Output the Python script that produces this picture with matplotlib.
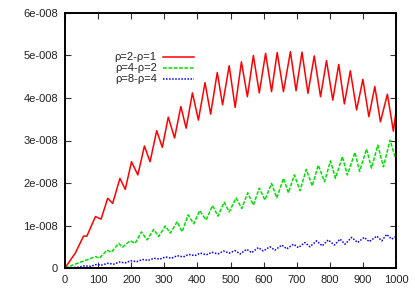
import matplotlib

matplotlib.use("Agg")
import matplotlib.pyplot as plt

plt.rcParams["font.family"] = ["Liberation Sans", "DejaVu Sans"]

# rho=2 - rho=1 (peaks and troughs, units of 1e-8)
red_x = [0, 31, 56, 66, 92, 109, 129, 144, 166, 182, 201, 220, 240, 257, 277, 294,
         312, 331, 350, 366, 385, 403, 423, 440, 460, 476, 496, 514, 533, 551, 569,
         587, 606, 624, 641, 660, 681, 698, 716, 734, 753, 772, 790, 809, 827, 844,
         862, 881, 900, 918, 936, 953, 974, 992, 1000]
red_y = [0, 0.35, 0.75, 0.75, 1.21, 1.15, 1.64, 1.52, 2.11, 1.85, 2.50, 2.19, 2.87,
         2.50, 3.23, 2.84, 3.55, 3.06, 3.80, 3.29, 4.12, 3.48, 4.36, 3.62, 4.60, 3.84,
         4.76, 3.78, 4.85, 4.03, 5.00, 4.12, 5.05, 4.15, 5.07, 4.15, 5.09, 4.17, 5.08,
         4.11, 4.99, 4.03, 4.88, 3.95, 4.79, 3.86, 4.64, 3.72, 4.44, 3.56, 4.27, 3.44,
         4.09, 3.22, 3.68]

# rho=4 - rho=2
green_x = [0, 51, 66, 92, 104, 127, 140, 162, 174, 197, 212, 231, 248, 268, 283, 303,
           318, 339, 354, 372, 389, 407, 426, 446, 462, 481, 496, 517, 534, 552, 569,
           587, 604, 624, 640, 660, 675, 693, 710, 729, 747, 765, 784, 802, 817, 838,
           853, 876, 890, 911, 926, 945, 962, 982, 1000]
green_y = [0, 0.15, 0.19, 0.27, 0.23, 0.42, 0.37, 0.58, 0.49, 0.64, 0.58, 0.85, 0.66,
           0.91, 0.74, 0.99, 0.82, 1.09, 0.85, 1.25, 1.04, 1.35, 1.13, 1.47, 1.22, 1.55,
           1.32, 1.65, 1.40, 1.77, 1.48, 1.88, 1.60, 1.99, 1.65, 2.11, 1.77, 2.19, 1.82,
           2.32, 1.93, 2.42, 2.03, 2.52, 2.11, 2.62, 2.19, 2.72, 2.27, 2.80, 2.35, 2.89,
           2.38, 3.01, 2.54]

# rho=8 - rho=4
blue_x = [0, 42, 59, 77, 94, 112, 129, 147, 164, 182, 199, 217, 234, 252, 269, 287,
          304, 322, 339, 357, 374, 392, 409, 427, 444, 462, 479, 496, 514, 529, 549,
          564, 584, 599, 619, 634, 655, 670, 690, 705, 725, 740, 760, 777, 795, 814,
          831, 846, 866, 884, 904, 919, 942, 957, 972, 987, 1000]
blue_y = [0, 0.02, 0.05, 0.04, 0.08, 0.07, 0.11, 0.09, 0.14, 0.12, 0.17, 0.15, 0.20,
          0.18, 0.23, 0.21, 0.26, 0.23, 0.29, 0.26, 0.32, 0.29, 0.35, 0.31, 0.37, 0.33,
          0.40, 0.35, 0.41, 0.33, 0.44, 0.36, 0.48, 0.40, 0.50, 0.42, 0.54, 0.45, 0.56,
          0.48, 0.60, 0.50, 0.64, 0.52, 0.66, 0.54, 0.68, 0.56, 0.72, 0.60, 0.72, 0.62,
          0.75, 0.64, 0.79, 0.68, 0.74]

labels = ["ρ=2-ρ=1", "ρ=4-ρ=2", "ρ=8-ρ=4"]
x_ticks = [0, 100, 200, 300, 400, 500, 600, 700, 800, 900, 1000]
y_ticks = [0, 1e-8, 2e-8, 3e-8, 4e-8, 5e-8, 6e-8]
y_ticklabels = ["0", "1e-008", "2e-008", "3e-008", "4e-008", "5e-008", "6e-008"]

fig = plt.figure(figsize=(4.15, 2.91), dpi=100)
ax = fig.add_axes([65 / 415, 23 / 291, 331 / 415, 255 / 291])

series = [
    (red_x, red_y, "#ff0000", "-"),
    (green_x, green_y, "#00e000", (0, (2.5, 1))),
    (blue_x, blue_y, "#0000ff", (0, (1, 1))),
]
for (xs, ys, col, ls), lab in zip(series, labels):
    ax.plot(xs, [v * 1e-8 for v in ys], color=col, linestyle=ls, lw=1.1, label=lab)

ax.set_xlim(0, 1000)
ax.set_ylim(0, 6e-8)
ax.set_xticks(x_ticks)
ax.set_yticks(y_ticks)
ax.set_yticklabels(y_ticklabels)
ax.tick_params(direction="in", length=4, width=0.8, labelsize=8, pad=5,
               top=True, right=True, colors="#333333", labelcolor="#222222")
for sp in ax.spines.values():
    sp.set_linewidth(1.4)
    sp.set_color("black")

# gnuplot style key: label on the left, sample on the right
key_y = [0.826, 0.784, 0.742]
for (xs, ys, col, ls), lab, ky in zip(series, labels, key_y):
    ax.text(0.277, ky, lab, transform=ax.transAxes, ha="right", va="center",
            fontsize=8, color="#222222")
    ax.plot([0.297, 0.390], [ky, ky], transform=ax.transAxes, color=col,
            linestyle=ls, lw=1.1)

fig.savefig("out.png", dpi=100)
